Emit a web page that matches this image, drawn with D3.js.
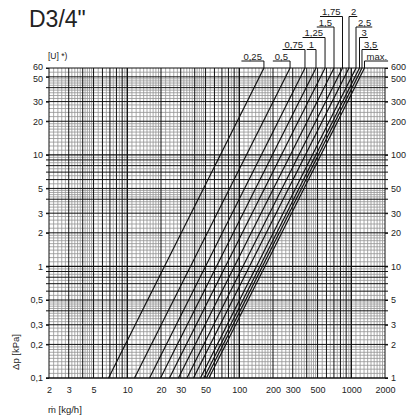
<!DOCTYPE html>
<html>
<head>
<meta charset="utf-8">
<script src="https://cdn.jsdelivr.net/npm/d3@7"></script>
<style>
	body { margin: 0; background: #fff; }
	text { font-family: "Liberation Sans", Arial, sans-serif; fill: #222; }
</style>
</head>
<body>
<div id="chart"></div>
<script>
// presetting labels and mass flow (kg/h) where each line meets 0,1 kPa and 60 kPa
const presets = ['0,25', '0,5', '0,75', '1', '1,25', '1,5', '1,75', '2', '2,5', '3', '3,5', 'max.'];
const flowAtMin = [6.8, 11.6, 15.8, 19.8, 23.8, 28.6, 34.1, 39.0, 45.0, 48.3, 50.9, 53.6];
const flowAtMax = [166, 284, 386, 484, 583, 701, 835, 954, 1102, 1184, 1246, 1312];
const dpMin = 0.1;
const dpMax = 60;

const xTicks = [2, 3, 5, 10, 20, 30, 50, 100, 200, 300, 500, 1000, 2000];
const yTicksKpa = [0.1, 0.2, 0.3, 0.5, 1, 2, 3, 5, 10, 20, 30, 50, 60];
const yTicksMbar = [1, 2, 3, 5, 10, 20, 30, 50, 100, 200, 300, 500, 600];

let svgWidth = 409;
let svgHeight = 416;
let padding = { left: 49, right: 24, top: 68, bottom: 38 };

let svg = d3.select('#chart').append('svg')
	.attr('width', svgWidth)
	.attr('height', svgHeight);

let x = d3.scaleLog()
	.domain([2, 2000])
	.range([padding.left, svgWidth - padding.right]);
let y = d3.scaleLog()
	.domain([dpMin, dpMax])
	.range([svgHeight - padding.bottom, padding.top]);
let yR = d3.scaleLog()
	.domain([dpMin * 10, dpMax * 10])
	.range([svgHeight - padding.bottom, padding.top]);

const fmt = d => String(d).replace('.', ',');

// log paper grid: fine grey lines and black lines at whole multiples
function gridValues(lo, hi) {
	let minor = [], major = [];
	for (let dec = 0.1; dec < hi * 1.001; dec *= 10) {
		for (let m = 1; m < 10 - 1e-9; m += (m < 2 - 1e-9 ? 0.1 : m < 5 - 1e-9 ? 0.2 : 0.5)) {
			let v = +(m * dec).toPrecision(6);
			if (v < lo * 0.999 || v > hi * 1.001) continue;
			if (Math.abs(m - Math.round(m)) < 1e-6) major.push(v);
			else minor.push(v);
		}
	}
	return { minor, major };
}

let gx = gridValues(2, 2000);
let gy = gridValues(dpMin, dpMax);
if (!gy.major.includes(60)) gy.major.push(60);

let grid = svg.append('g').classed('grid', true);
let [x0, x1] = x.range();
let [y0, y1] = y.range();

grid.selectAll('line.vminor')
	.data(gx.minor)
	.enter().append('line')
	.attr('x1', d => x(d)).attr('x2', d => x(d))
	.attr('y1', y0).attr('y2', y1)
	.attr('stroke', '#939393')
	.attr('stroke-width', 0.8);

grid.selectAll('line.hminor')
	.data(gy.minor)
	.enter().append('line')
	.attr('x1', x0).attr('x2', x1)
	.attr('y1', d => y(d)).attr('y2', d => y(d))
	.attr('stroke', '#939393')
	.attr('stroke-width', 0.8);

grid.selectAll('line.vmajor')
	.data(gx.major)
	.enter().append('line')
	.attr('x1', d => x(d)).attr('x2', d => x(d))
	.attr('y1', y0).attr('y2', y1)
	.attr('stroke', '#111')
	.attr('stroke-width', d => Math.abs(Math.log10(d) % 1) < 1e-6 ? 1.4 : 1);

grid.selectAll('line.hmajor')
	.data(gy.major)
	.enter().append('line')
	.attr('x1', x0 - 3).attr('x2', x1 + 3)
	.attr('y1', d => y(d)).attr('y2', d => y(d))
	.attr('stroke', '#111')
	.attr('stroke-width', d => Math.abs(Math.log10(d) % 1) < 1e-6 ? 1.4 : 1);

// axes
let axes = svg.append('g').classed('axes', true);

axes.append('g')
	.classed('y-axis', true)
	.attr('transform', `translate(${x0}, 0)`)
	.call(d3.axisLeft(y).tickValues(yTicksKpa).tickFormat(fmt).tickSize(3).tickPadding(3))
	.call(g => g.select('.domain').remove());

axes.append('g')
	.classed('y-axis-right', true)
	.attr('transform', `translate(${x1}, 0)`)
	.call(d3.axisRight(yR).tickValues(yTicksMbar).tickFormat(fmt).tickSize(3).tickPadding(3))
	.call(g => g.select('.domain').remove());

axes.append('g')
	.classed('x-axis', true)
	.attr('transform', `translate(0, ${y0})`)
	.call(d3.axisBottom(x).tickValues(xTicks).tickFormat(fmt).tickSize(0).tickPadding(9))
	.call(g => g.select('.domain').remove());

axes.selectAll('.tick line').attr('stroke', '#111');
axes.selectAll('text')
	.attr('font-size', '9px')
	.attr('fill', '#222')
	.attr('font-family', '"Liberation Sans", Arial, sans-serif');

// the two top labels on each side sit close together, spread them a bit
axes.selectAll('.y-axis .tick text').attr('y', d => d === 60 ? -1 : d === 50 ? 1.5 : 0);
axes.selectAll('.y-axis-right .tick text').attr('y', d => d === 600 ? -1 : d === 500 ? 1.5 : 0);

// characteristic lines
let lineData = presets.map((p, i) => ({
	key: p,
	pts: [[flowAtMin[i], dpMin], [flowAtMax[i], dpMax]]
}));

let line = d3.line()
	.x(d => x(d[0]))
	.y(d => y(d[1]));

svg.append('g').classed('body', true)
	.selectAll('path.line')
	.data(lineData)
	.enter().append('path')
	.classed('line', true)
	.attr('d', d => line(d.pts))
	.attr('fill', 'none')
	.attr('stroke', '#111')
	.attr('stroke-width', 1.2);

// preset labels with leader lines
let rowY = [61, 49.5, 37.5, 27, 16.5];
let labelRow = [0, 0, 1, 1, 2, 3, 4, 4, 3, 2, 1, 0];
let labelRight = [false, false, false, false, false, false, false, true, true, true, true, true];

let labels = svg.append('g').classed('labels', true);
lineData.forEach((d, i) => {
	let lx = x(d.pts[1][0]);
	let ly = rowY[labelRow[i]];
	let t = labels.append('text')
		.attr('y', ly - 1.5)
		.attr('font-size', '9.5px')
		.text(d.key);
	let w = t.node().getComputedTextLength();
	let tx = labelRight[i] ? lx + 2 : lx - w - 2;
	t.attr('x', tx);
	let ux0 = labelRight[i] ? lx : tx - 2;
	let ux1 = labelRight[i] ? tx + w + 1 : lx;
	labels.append('line')
		.attr('x1', ux0).attr('x2', ux1)
		.attr('y1', ly).attr('y2', ly)
		.attr('stroke', '#111').attr('stroke-width', 1);
	labels.append('line')
		.attr('x1', lx).attr('x2', lx)
		.attr('y1', ly).attr('y2', y1)
		.attr('stroke', '#111').attr('stroke-width', 1);
});

// titles
svg.append('text')
	.attr('x', 29)
	.attr('y', 27)
	.attr('font-size', '23px')
	.attr('fill', '#444')
	.text('D3/4"');

svg.append('text')
	.attr('x', 48)
	.attr('y', 59)
	.attr('font-size', '8.5px')
	.text('[U] *)');

svg.append('text')
	.attr('transform', 'translate(19, 352) rotate(-90)')
	.attr('text-anchor', 'middle')
	.attr('font-size', '9.5px')
	.text('Δp [kPa]');

svg.append('text')
	.attr('x', 48)
	.attr('y', 413)
	.attr('font-size', '9.5px')
	.text('ṁ [kg/h]');
</script>
</body>
</html>
